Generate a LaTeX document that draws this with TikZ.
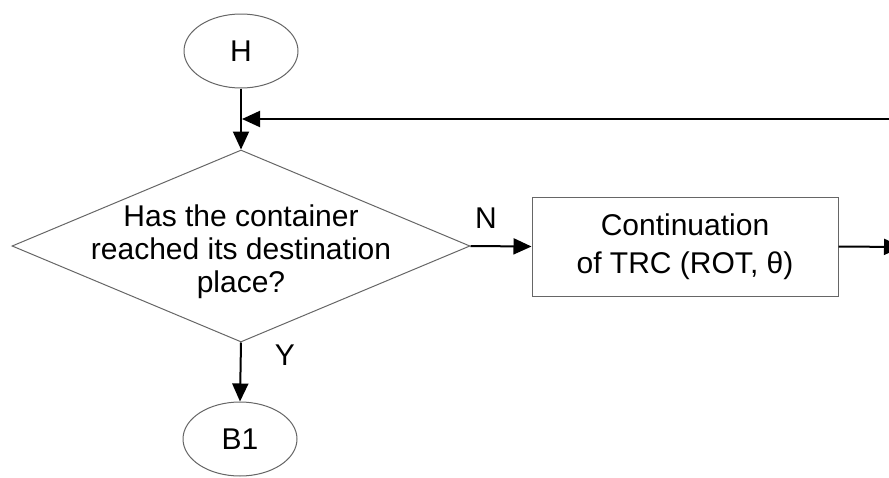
\documentclass[tikz,border=0pt]{standalone}
\usepackage{fontspec}
\setmainfont{Liberation Sans}
\usetikzlibrary{shapes.geometric,arrows.meta}
\tikzset{
  conn/.style={line width=2pt,-{Triangle[length=18pt,width=16pt]}},
  outl/.style={draw=black!60,line width=1pt,inner sep=0pt},
  term/.style={outl,ellipse,minimum width=114pt,minimum height=74pt},
}
\begin{document}
\begin{tikzpicture}[x=1pt,y=-1pt,font=\fontsize{30}{33}\selectfont]
\useasboundingbox (0,0) rectangle (889,477);

\node[term] (H) at (241,51) {H};
\node[outl,diamond,minimum width=458pt,minimum height=192pt,aspect=2.385] (dec) at (241,246) {};
\node[align=center] (dectxt) at (241,252) {Has the container\\reached its destination\\place?};
\node[outl,minimum width=306pt,minimum height=99pt,align=center] (cont) at (685,246.5)
  {Continuation\\[5pt]of TRC (ROT, θ)};
\node[term] (B1) at (240,439) {B1};

\coordinate (fb) at (889,119);
\coordinate (fbj) at (242,119);
\coordinate (out) at (902,247);

\draw[conn] (H.south) -- (dec.north);
\draw[conn] (fb) -- (fbj);
\draw[conn] (dec.east) -- (cont.west);
\draw[conn] (cont.east) -- (out);
\draw[conn] (dec.south) -- (B1.north);

\node (n) at (486,218) {N};
\node (y) at (285,355) {Y};
\end{tikzpicture}
\end{document}
